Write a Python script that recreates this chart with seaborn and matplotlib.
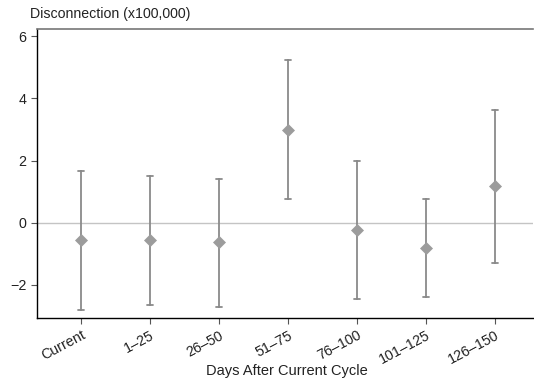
import matplotlib
matplotlib.use("Agg")
import matplotlib.pyplot as plt
import seaborn as sns
import pandas as pd

categories = ["Current", "1\u201325", "26\u201350", "51\u201375", "76\u2013100", "101\u2013125", "126\u2013150"]
estimates = [-0.55, -0.55, -0.63, 2.99, -0.23, -0.80, 1.17]
lower = [-2.80, -2.65, -2.72, 0.75, -2.45, -2.39, -1.28]
upper = [1.65, 1.52, 1.42, 5.23, 2.00, 0.78, 3.62]
yticks = [-2, 0, 2, 4, 6]

rows = []
for c, lo, e, hi in zip(categories, lower, estimates, upper):
    for v in (lo, e, hi):
        rows.append({"cat": c, "val": v})
df = pd.DataFrame(rows)

sns.set_style("white")
plt.rcParams["font.family"] = ["Liberation Sans", "DejaVu Sans"]

fig = plt.figure(figsize=(5.34, 3.83), dpi=100)
ax = fig.add_axes([0.069, 0.170, 0.929, 0.754])

ax.axhline(0, color="#c4c4c4", lw=1.0, zorder=0)
sns.pointplot(data=df, x="cat", y="val", order=categories,
              estimator="median", errorbar=lambda x: (x.min(), x.max()),
              linestyle="none", marker="D", markersize=6.3,
              color="#8a8a8a", capsize=0.1, err_kws={"linewidth": 1.3},
              ax=ax)
for ln in ax.lines:
    if ln.get_marker() == "D":
        ln.set_markerfacecolor("#9c9c9c")
        ln.set_markeredgecolor("#9c9c9c")
        ln.set_markeredgewidth(0.5)
        ln.set_zorder(5)

ax.set_xlim(-0.64, 6.55)
ax.set_ylim(-3.06, 6.23)
ax.set_yticks(yticks)
ax.set_yticklabels([str(t).replace("-", "\u2212") for t in yticks])

ax.spines["right"].set_visible(False)
ax.spines["top"].set_color("#777777")
ax.spines["top"].set_linewidth(1.2)
for s in ["left", "bottom"]:
    ax.spines[s].set_color("black")
    ax.spines[s].set_linewidth(1.0)

ax.tick_params(axis="both", which="both", direction="out", length=4,
               width=0.8, color="#555555", labelsize=10.3, labelcolor="#222222",
               left=True, bottom=True)
plt.setp(ax.get_xticklabels(), rotation=28, ha="right", rotation_mode="anchor")

ax.set_xlabel("Days After Current Cycle", fontsize=10.5, color="#222222", va="center")
ax.xaxis.set_label_coords(0.505, -0.183)
ax.set_ylabel("")
fig.text(0.056, 0.963, "Disconnection (x100,000)", fontsize=10.2, color="#222222",
         ha="left", va="center")

fig.savefig("out.png", dpi=100)
